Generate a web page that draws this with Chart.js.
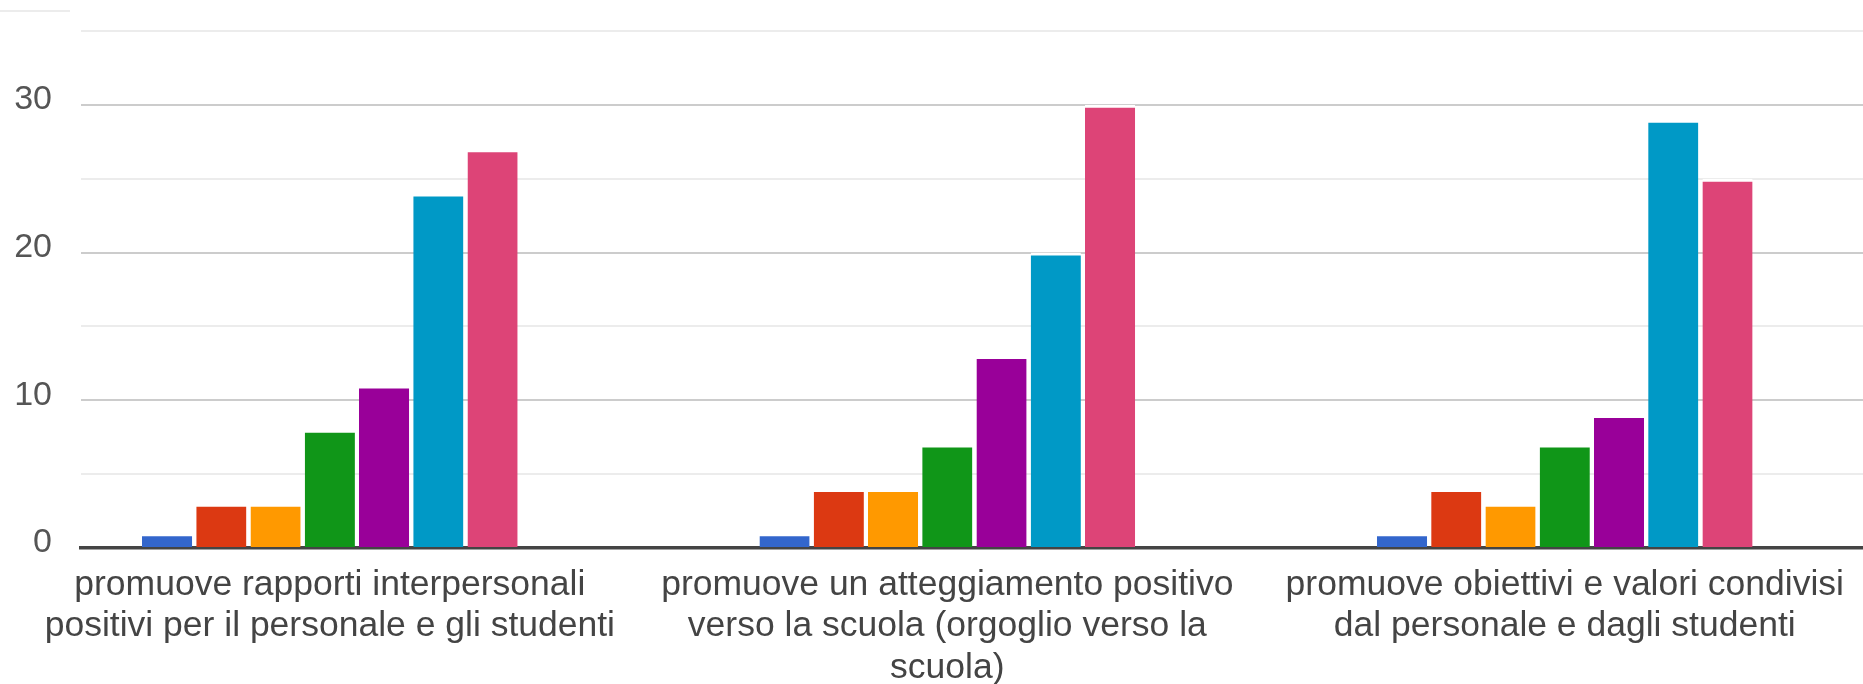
<!DOCTYPE html>
<html>
<head>
<meta charset="utf-8">
<script src="https://cdn.jsdelivr.net/npm/chart.js@4.4.1/dist/chart.umd.min.js"></script>
<style>
    html, body { margin: 0; padding: 0; background: #fff; overflow: hidden; }
    #wrap { position: relative; width: 1863px; height: 684px; }
    #cornerLine { position: absolute; left: 0; top: 10px; width: 70px; height: 2px; background: #ececec; }
</style>
</head>
<body>
<div id="wrap">
    <canvas id="chart" width="1863" height="684"></canvas>
    <div id="cornerLine"></div>
</div>
<script>
// Categories (x axis), one label per group, split into lines as in the original
const categories = [
    ['promuove rapporti interpersonali', 'positivi per il personale e gli studenti'],
    ['promuove un atteggiamento positivo', 'verso la scuola (orgoglio verso la', 'scuola)'],
    ['promuove obiettivi e valori condivisi', 'dal personale e dagli studenti']
];

// Response levels 1..7, one value per category
const seriesNames = ['1', '2', '3', '4', '5', '6', '7'];
const level1 = [1, 1, 1];
const level2 = [3, 4, 4];
const level3 = [3, 4, 3];
const level4 = [8, 7, 7];
const level5 = [11, 13, 9];
const level6 = [24, 20, 29];
const level7 = [27, 30, 25];

// Y axis
const yLabelTicks = [0, 10, 20, 30];
const yMax = 35;

const seriesColors = ['#3366cc', '#dc3912', '#ff9900', '#109618', '#990099', '#0099c6', '#dd4477'];
const fontFamily = '"Liberation Sans", Arial, sans-serif';

const allSeries = [level1, level2, level3, level4, level5, level6, level7];
const datasets = allSeries.map((vals, i) => ({
    label: seriesNames[i],
    data: vals.map((v, j) => ({ x: j, y: v })),
    backgroundColor: seriesColors[i],
    // thin white stroke on top, like the original bars
    borderColor: '#ffffff',
    borderWidth: { top: 3, left: 0, right: 0, bottom: 0 },
    borderSkipped: 'bottom'
}));

const ctx = document.getElementById('chart').getContext('2d');
new Chart(ctx, {
    type: 'bar',
    data: { datasets },
    options: {
        responsive: false,
        animation: false,
        devicePixelRatio: 1,
        layout: { padding: { top: 31, left: 0, right: 0, bottom: 0 } },
        datasets: {
            bar: { categoryPercentage: 0.615, barPercentage: 0.925 }
        },
        plugins: {
            legend: { display: false },
            tooltip: { enabled: false }
        },
        scales: {
            x: {
                type: 'linear',
                offset: false,
                min: -0.403,
                max: 2.483,
                afterBuildTicks: scale => {
                    scale.ticks = categories.map((c, i) => ({ value: i }));
                },
                afterFit: scale => {
                    scale.height = 136;
                    scale.paddingLeft = 0;
                    scale.paddingRight = 0;
                },
                ticks: {
                    callback: v => categories[v],
                    autoSkip: false,
                    maxRotation: 0,
                    minRotation: 0,
                    padding: 16,
                    color: '#444',
                    font: { family: fontFamily, size: 35.5, lineHeight: 1.17 }
                },
                grid: { display: false, drawTicks: false },
                border: { display: true, color: '#444', width: 3.5 }
            },
            y: {
                min: 0,
                max: yMax,
                afterFit: scale => {
                    scale.width = 81;
                    scale.paddingTop = 0;
                    scale.paddingBottom = 0;
                },
                ticks: {
                    stepSize: 5,
                    callback: v => yLabelTicks.includes(v) ? String(v) : '',
                    padding: 29,
                    labelOffset: -5,
                    color: '#555',
                    font: { family: fontFamily, size: 34 }
                },
                grid: {
                    drawTicks: false,
                    lineWidth: 2,
                    color: c => c.tick.value === 0 ? 'rgba(0,0,0,0)'
                        : (c.tick.value % 10 === 0 ? '#cccccc' : '#ececec')
                },
                border: { display: false }
            }
        }
    }
});
</script>
</body>
</html>
